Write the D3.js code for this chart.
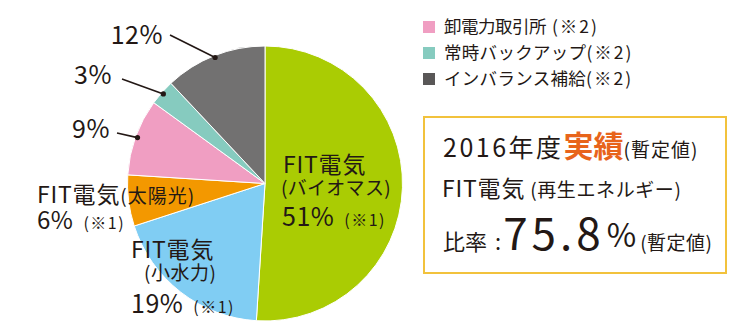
<!DOCTYPE html>
<html><head><meta charset="utf-8">
<script src="https://cdn.jsdelivr.net/npm/d3@7"></script>
<style>
html,body{margin:0;padding:0;background:#fff;}
svg{display:block;font-family:"Noto Sans CJK JP","Noto Sans",sans-serif;}
</style></head>
<body>
<svg id="c" width="743" height="331"></svg>
<script>
// ---- data ----
const categories = ["FIT電気（バイオマス）", "FIT電気（小水力）", "FIT電気（太陽光）", "卸電力取引所", "常時バックアップ", "インバランス補給"];
const values = [51, 19, 6, 9, 3, 12];
const sliceColors = ["#aacc03", "#80cdf3", "#f39800", "#f09ec2", "#86cbbf", "#727171"];
const legendItems = ["卸電力取引所", "常時バックアップ", "インバランス補給"];
const legendNotes = [" (※2)", "(※2)", "(※2)"];
const legendColors = ["#f09ec2", "#86cbbf", "#595757"];
const fiscalYear = "2016年度";
const ratioValue = "75.8";

const svg = d3.select("#c");
const textColor = "#231815";
const cx = 265, cy = 183.5, R = 137.5;

const pie = d3.pie().sort(null).value(d => d)(values);
const arc = d3.arc().innerRadius(0).outerRadius(R);
const g = svg.append("g").attr("transform", `translate(${cx},${cy})`);
g.selectAll("path").data(pie).join("path")
  .attr("d", arc)
  .attr("fill", (d, i) => sliceColors[i])
  .attr("stroke", "#fff").attr("stroke-width", 1);

// leader lines for small slices (indices 3,4,5)
const dotArc = d3.arc().innerRadius(R - 2).outerRadius(R - 2);
const leaderStarts = {3: [117, 133], 4: [122, 79], 5: [170, 35]};
[3, 4, 5].forEach(i => {
  const [dx, dy] = dotArc.centroid(pie[i]);
  const px = cx + dx, py = cy + dy;
  const [sx, sy] = leaderStarts[i];
  svg.append("line").attr("x1", sx).attr("y1", sy).attr("x2", px).attr("y2", py)
    .attr("stroke", textColor).attr("stroke-width", 1.6);
  svg.append("circle").attr("cx", px).attr("cy", py).attr("r", 2.6).attr("fill", textColor);
});
const pctPos = {3: [110, 138], 4: [112, 84], 5: [163, 44]};
[3, 4, 5].forEach(i => {
  svg.append("text").attr("x", pctPos[i][0]).attr("y", pctPos[i][1])
    .attr("text-anchor", "end").attr("font-size", 25).attr("letter-spacing", 0.5).attr("fill", textColor)
    .text(values[i] + "%");
});

function splitName(s) {
  const k = s.indexOf("（");
  return [s.slice(0, k), s.slice(k + 1, s.length - 1)];
}
function note(t) {
  t.append("tspan").attr("font-size", 16).attr("dx", 10).attr("letter-spacing", 1.5).text("(※1)");
}

// Biomass label (one text block)
{
  const [a, b] = splitName(categories[0]);
  const t = svg.append("text").attr("fill", textColor);
  t.append("tspan").attr("x", 283).attr("y", 173).attr("font-size", 23).attr("letter-spacing", 0.8).text(a);
  t.append("tspan").attr("x", 281).attr("y", 195).attr("font-size", 19).attr("letter-spacing", 0.3).text("(" + b + ")");
  t.append("tspan").attr("x", 282).attr("y", 226).attr("font-size", 25).attr("letter-spacing", 0.5).text(values[0] + "%");
  note(t);
}
// Small hydro label
{
  const [a, b] = splitName(categories[1]);
  const t = svg.append("text").attr("fill", textColor);
  t.append("tspan").attr("x", 131).attr("y", 258).attr("font-size", 23).attr("letter-spacing", 0.8).text(a);
  t.append("tspan").attr("x", 144).attr("y", 280).attr("font-size", 19).attr("letter-spacing", 0.5).text("(" + b + ")");
  t.append("tspan").attr("x", 131).attr("y", 313).attr("font-size", 25).attr("letter-spacing", 0.5).text(values[1] + "%");
  note(t);
}
// Solar label
{
  const [a, b] = splitName(categories[2]);
  const t = svg.append("text").attr("fill", textColor);
  t.append("tspan").attr("x", 37).attr("y", 203).attr("font-size", 23).attr("letter-spacing", 0.8).text(a);
  t.append("tspan").attr("font-size", 19).attr("letter-spacing", 1).text("(" + b + ")");
  t.append("tspan").attr("x", 37).attr("y", 229).attr("font-size", 24).attr("letter-spacing", 0.5).text(values[2] + "%");
  note(t);
}

// Legend
legendItems.forEach((s, i) => {
  const y = 33 + i * 26;
  svg.append("rect").attr("x", 423).attr("y", y - 12).attr("width", 12).attr("height", 12).attr("fill", legendColors[i]);
  const t = svg.append("text").attr("x", 444).attr("y", y).attr("font-size", 17.5).attr("fill", textColor);
  t.append("tspan").attr("letter-spacing", i === 0 ? -0.5 : 0.3).text(s);
  t.append("tspan").attr("letter-spacing", 2).text(legendNotes[i]);
});

// Box
svg.append("rect").attr("x", 424).attr("y", 117).attr("width", 302).attr("height", 156)
  .attr("fill", "none").attr("stroke", "#f2c23c").attr("stroke-width", 2);
{
  const t = svg.append("text").attr("x", 443).attr("y", 157).attr("fill", textColor);
  t.append("tspan").attr("font-size", 25).attr("letter-spacing", 2.5).text(fiscalYear);
  t.append("tspan").attr("font-size", 30).attr("font-weight", "bold").attr("fill", "#e8641b").text("実績");
  t.append("tspan").attr("font-size", 19).attr("letter-spacing", 1).text("(暫定値)");
}
{
  const t = svg.append("text").attr("x", 442).attr("y", 197).attr("fill", textColor);
  t.append("tspan").attr("font-size", 23).attr("letter-spacing", 0.8).text("FIT電気");
  t.append("tspan").attr("font-size", 19).attr("dx", 5).attr("letter-spacing", 0.6).text("(再生エネルギー)");
}
{
  const t = svg.append("text").attr("x", 443).attr("y", 250).attr("fill", textColor);
  t.append("tspan").attr("font-size", 22).text("比率");
  t.append("tspan").attr("font-size", 22).attr("dx", 8).text(":");
  t.append("tspan").attr("font-size", 44).attr("dx", 2).attr("letter-spacing", 4).text(ratioValue);
  t.append("tspan").attr("font-size", 32).attr("dx", 2).attr("dy", -3).text("%");
  t.append("tspan").attr("font-size", 19).attr("dx", 4).attr("dy", 3).attr("letter-spacing", 0.5).text("(暫定値)");
}
</script>
</body></html>
